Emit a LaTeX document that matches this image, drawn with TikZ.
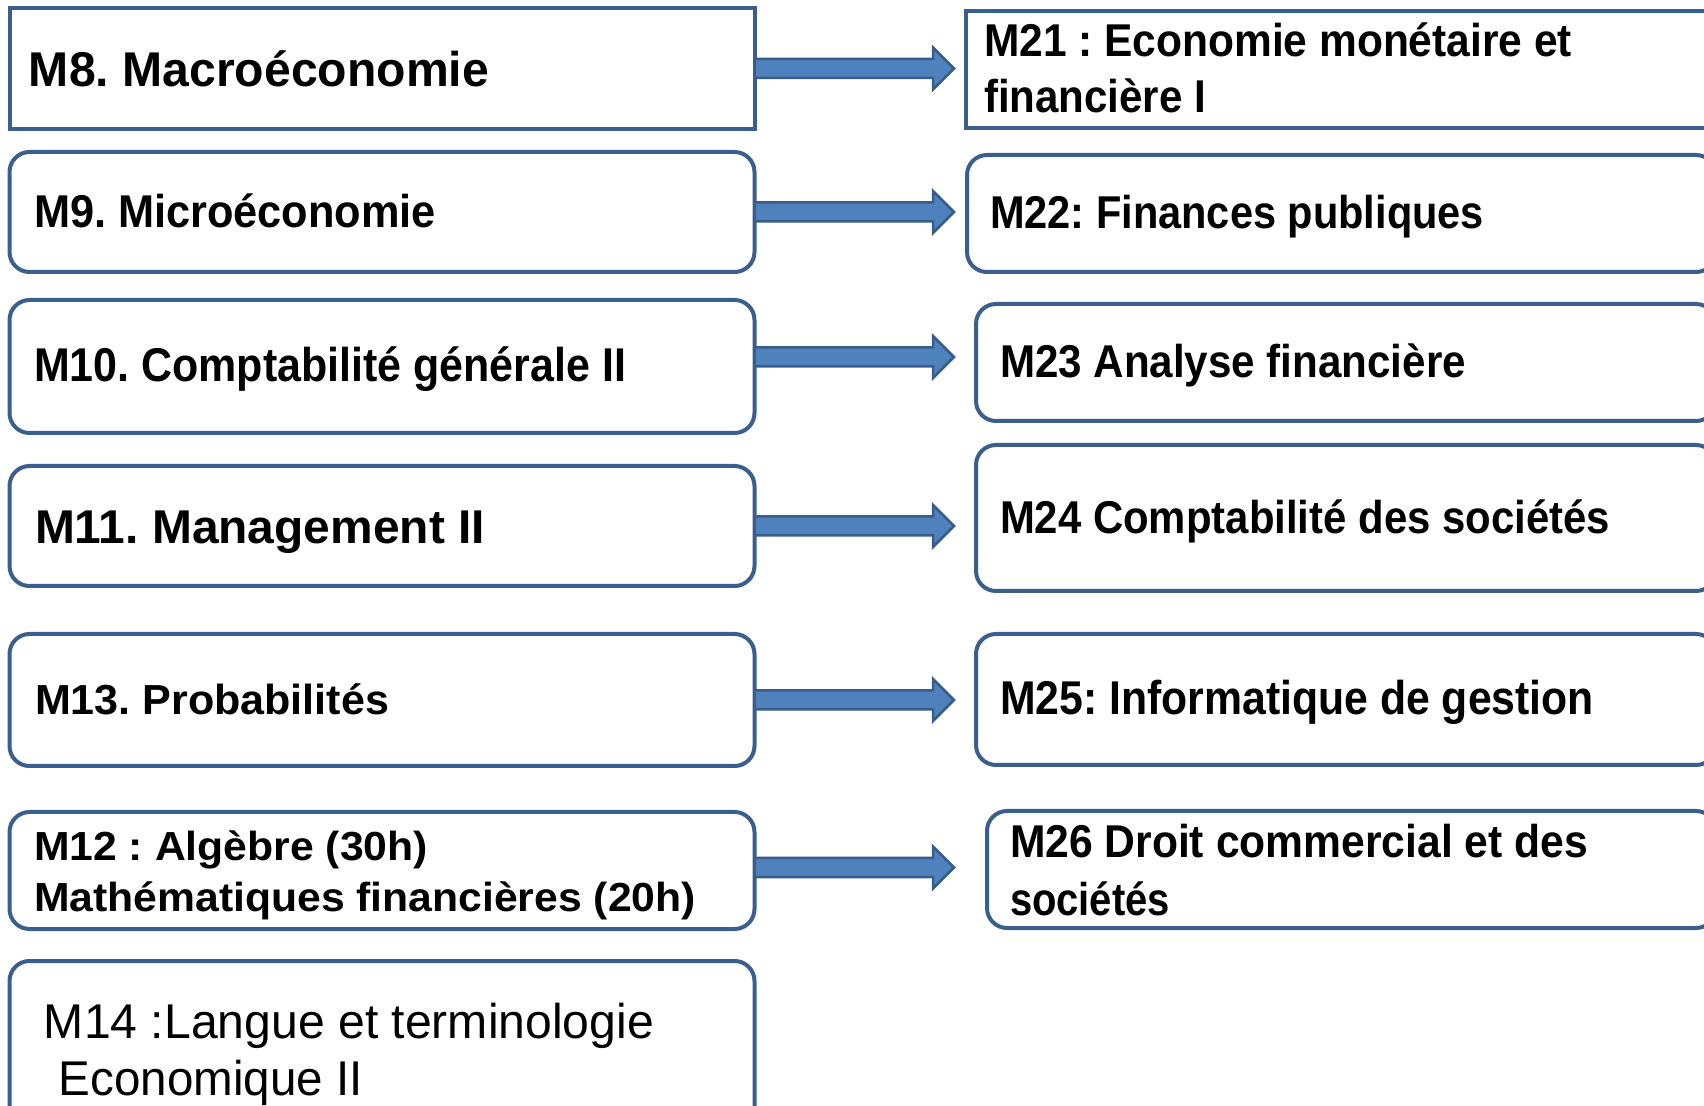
\documentclass[tikz,border=0pt]{standalone}
\usepackage{fontspec}
\usepackage{graphicx}
\setmainfont{Liberation Sans}
\usetikzlibrary{calc}
\frenchspacing
\definecolor{bord}{HTML}{3A5F8E}
\definecolor{arrfill}{HTML}{4F81BD}
\definecolor{arrbord}{HTML}{385D8A}
\newsavebox\fitbox
\newcommand\fitw[3]{%
  \sbox\fitbox{\frenchspacing\fontsize{#2}{#2}\selectfont #3}%
  \pgfmathsetmacro\fitsx{#1/\the\wd\fitbox}%
  \scalebox{\fitsx}[1]{\usebox\fitbox}}
\tikzset{
  rbox/.style={draw=bord, line width=2pt, rounded corners=10pt, fill=white, inner sep=0pt, outer sep=0pt, anchor=north west},
  sqbox/.style={draw=bord, line width=2pt, fill=white, inner sep=0pt, outer sep=0pt, anchor=north west},
  lbl/.style={anchor=base west, inner sep=0pt, outer sep=0pt},
  blockarrow/.style={draw=arrbord, fill=arrfill, line width=1.25pt, line join=miter}
}
\newcommand\blockarrow[2]{%
  \draw[blockarrow] let \p1=(#1), \p2=(#2) in
    (\x1,\y1+4.75pt) -- (\x2-10.5pt,\y1+4.75pt) -- (\x2-10.5pt,\y1+10.5pt) --
    (\x2,\y1) -- (\x2-10.5pt,\y1-10.5pt) -- (\x2-10.5pt,\y1-4.75pt) --
    (\x1,\y1-4.75pt) -- cycle;}
\begin{document}
\begin{tikzpicture}[x=0.5pt,y=-0.5pt]
\useasboundingbox (0,0) rectangle (1704,1106);
\clip (0,0) rectangle (1704,1106);
% left boxes
\node[sqbox, minimum width=372.5pt, minimum height=60.5pt] (b8) at (9.5,8) {};
\node[rbox, minimum width=372.5pt, minimum height=60pt] (b9) at (9.5,152) {};
\node[rbox, minimum width=372.5pt, minimum height=66.5pt] (b10) at (9.5,300) {};
\node[rbox, minimum width=372.5pt, minimum height=60pt] (b11) at (9.5,466) {};
\node[rbox, minimum width=372.5pt, minimum height=66pt] (b13) at (9.5,634) {};
\node[rbox, minimum width=372.5pt, minimum height=58.5pt] (b12) at (9.5,812) {};
\node[rbox, minimum width=372.5pt, minimum height=89.5pt] (b14) at (9.5,961) {};
% right boxes
\node[sqbox, minimum width=375pt, minimum height=58.5pt] (r21) at (966,11) {};
\node[rbox, minimum width=374.5pt, minimum height=58.5pt] (r22) at (967,155) {};
\node[rbox, minimum width=370pt, minimum height=58.5pt] (r23) at (976,304) {};
\node[rbox, minimum width=370pt, minimum height=73pt] (r24) at (976,445) {};
\node[rbox, minimum width=370pt, minimum height=65.5pt] (r25) at (976,634) {};
\node[rbox, minimum width=364.5pt, minimum height=58.5pt] (r26) at (987,811) {};
% arrows
\coordinate (tipx) at (954,0);
\blockarrow{b8.east}{b8.east -| tipx}
\blockarrow{b9.east}{b9.east -| tipx}
\blockarrow{[yshift=4.75pt]b10.east}{b10.east -| tipx}
\blockarrow{b11.east}{b11.east -| tipx}
\blockarrow{b13.east}{b13.east -| tipx}
\blockarrow{[yshift=1.5pt]b12.east}{b12.east -| tipx}
% texts
\node[lbl] (t8) at (29,87) {\fitw{230}{24.4}{\bfseries M8. Macroéconomie}};
\node[lbl] (t9) at (34,228) {\fitw{201}{23}{\bfseries M9. Microéconomie}};
\node[lbl] (t10) at (34,382) {\fitw{296}{23.7}{\bfseries M10. Comptabilité générale II}};
\node[lbl] (t11) at (35,544) {\fitw{225}{23.7}{\bfseries M11. Management II}};
\node[lbl] (t13) at (35,715) {\fitw{177}{21}{\bfseries M13. Probabilités}};
\node[lbl] (t12a) at (34,861) {\fitw{197}{20.3}{\bfseries M12 : Algèbre (30h)}};
\node[lbl] (t12b) at (34,911) {\fitw{331}{20.3}{\bfseries Mathématiques financières (20h)}};
\node[lbl] (t14a) at (44,1038) {\fitw{305}{24.4}{M14 :Langue et terminologie}};
\node[lbl] (t14b) at (59,1095) {\fitw{152}{24.4}{Economique II}};
\node[lbl] (t21a) at (984,57) {\fitw{294}{23}{\bfseries M21 : Economie monétaire et}};
\node[lbl] (t21b) at (984,113) {\fitw{111}{23}{\bfseries financière I}};
\node[lbl] (t22) at (990,229) {\fitw{247}{23}{\bfseries M22: Finances publiques}};
\node[lbl] (t23) at (1000,378) {\fitw{233}{23}{\bfseries M23 Analyse financière}};
\node[lbl] (t24) at (1000,534) {\fitw{305}{23}{\bfseries M24 Comptabilité des sociétés}};
\node[lbl] (t25) at (1000,715) {\fitw{297}{23.7}{\bfseries M25: Informatique de gestion}};
\node[lbl] (t26a) at (1010,857) {\fitw{289}{23}{\bfseries M26 Droit commercial et des}};
\node[lbl] (t26b) at (1010,915) {\fitw{80}{23}{\bfseries sociétés}};
\end{tikzpicture}
\end{document}
